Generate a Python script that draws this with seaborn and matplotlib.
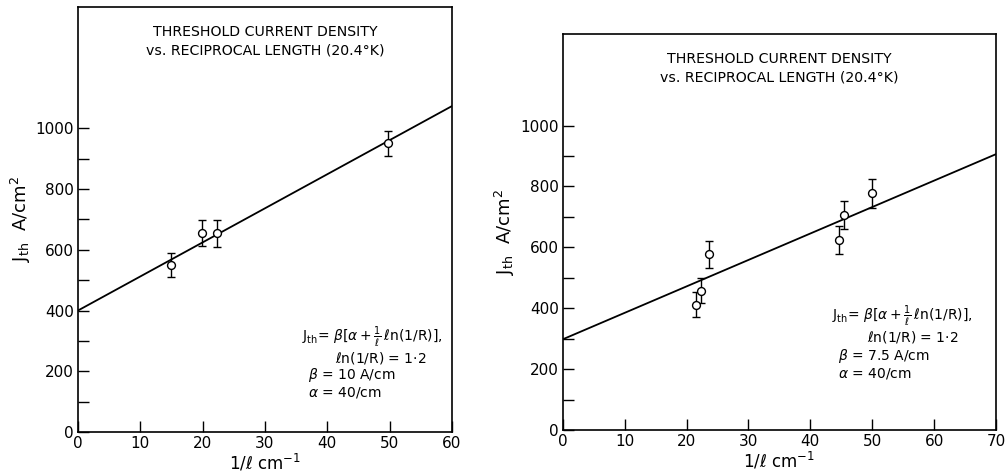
import numpy as np
import matplotlib.pyplot as plt
import pandas as pd
import seaborn as sns

# left panel (beta = 10 A/cm)
left_x = [15.0, 19.9, 22.3, 49.8]
left_y = [549, 655, 654, 950]
left_err = [40, 43, 44, 40]
left_fit_x = [0, 60]
left_fit_y = [400, 1073]

# right panel (beta = 7.5 A/cm)
right_x = [21.6, 22.3, 23.7, 44.7, 45.5, 50.0]
right_y = [411, 458, 577, 624, 706, 777]
right_err = [41, 42, 44, 45, 46, 48]
right_fit_x = [0, 70]
right_fit_y = [298, 906]

title = "THRESHOLD CURRENT DENSITY\nvs. RECIPROCAL LENGTH (20.4\u00b0K)"


def draw_panel(ax, xs, ys, errs, fit_x, fit_y, xmax, ymax, beta, text_xy, title_pos):
    df = pd.DataFrame({"x": xs, "y": ys})
    fit = pd.DataFrame({"x": fit_x, "y": fit_y})
    sns.lineplot(data=fit, x="x", y="y", ax=ax, color="black", lw=1.3)
    ax.errorbar(xs, ys, yerr=errs, fmt="none", ecolor="black", elinewidth=1.0, capsize=3, capthick=1.0)
    sns.scatterplot(data=df, x="x", y="y", ax=ax, marker="o", s=32, facecolor="white",
                    edgecolor="black", linewidth=1.0, zorder=5)

    ax.set_xlim(0, xmax)
    ax.set_ylim(0, ymax)
    ax.set_xticks(np.arange(0, xmax + 1, 10))
    ax.set_yticks(np.arange(0, 1001, 200))
    ax.set_yticks(np.arange(100, 1000, 200), minor=True)
    ax.tick_params(direction="in", length=8, width=1, labelsize=11, pad=3)
    ax.tick_params(which="minor", direction="in", length=8, width=1)
    for sp in ax.spines.values():
        sp.set_linewidth(1.2)
        sp.set_visible(True)

    ax.set_xlabel(r"1/$\ell$ cm$^{-1}$", fontsize=12, labelpad=1)
    ax.set_ylabel(r"J$_{\rm th}$  A/cm$^2$", fontsize=13, labelpad=2)

    ax.text(title_pos[0], title_pos[1], title, transform=ax.transAxes, ha="center", va="top",
            fontsize=10.2, linespacing=1.4)

    lines = [r"J$_{\rm th}$= $\beta[\alpha+\frac{1}{\ell}\,\ell{\rm n(1/R)}]$,",
             r"$\ell$n(1/R) = 1$\cdot$2",
             r"$\beta$ = " + beta,
             r"$\alpha$ = 40/cm"]
    for line, (tx, ty) in zip(lines, text_xy):
        ax.text(tx, ty, line, transform=ax.transAxes, ha="left", va="center", fontsize=10)


sns.set_style("ticks")
plt.rcParams["font.family"] = ["DejaVu Sans"]
plt.rcParams["mathtext.fontset"] = "dejavusans"
for key in ["text.color", "axes.labelcolor", "xtick.color", "ytick.color", "axes.edgecolor"]:
    plt.rcParams[key] = "black"

fig = plt.figure(figsize=(10.05, 4.74), dpi=100)
ax1 = fig.add_axes([0.0776, 0.0886, 0.372, 0.897])
ax2 = fig.add_axes([0.560, 0.0928, 0.431, 0.835])

draw_panel(ax1, left_x, left_y, left_err, left_fit_x, left_fit_y, 60, 1400, "10 A/cm",
           [(0.600, 0.223), (0.687, 0.175), (0.615, 0.133), (0.615, 0.093)], (0.5, 0.958))
draw_panel(ax2, right_x, right_y, right_err, right_fit_x, right_fit_y, 70, 1300, "7.5 A/cm",
           [(0.622, 0.286), (0.702, 0.234), (0.635, 0.188), (0.635, 0.143)], (0.5, 0.955))

fig.savefig("out.png", dpi=100)
